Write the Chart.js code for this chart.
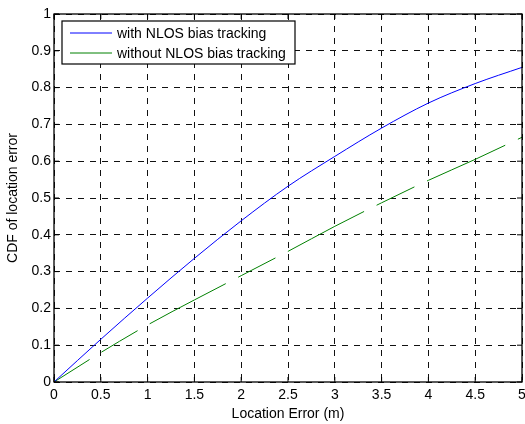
<!DOCTYPE html>
<html>
<head>
<meta charset="utf-8">
<script src="https://cdn.jsdelivr.net/npm/chart.js@4.4.1/dist/chart.umd.min.js"></script>
<style>
  html, body { margin: 0; padding: 0; background: #fff; }
  #wrap { width: 525px; height: 424px; }
</style>
</head>
<body>
<div id="wrap"><canvas id="cdf"></canvas></div>
<script>
// values
const locationError = [0, 0.5, 1, 1.5, 2, 2.5, 3, 3.5, 4, 4.5, 5];
const withTracking = [0, 0.116, 0.228, 0.336, 0.438, 0.532, 0.613, 0.69, 0.758, 0.811, 0.855];
const withoutTracking = [0, 0.08, 0.155, 0.223, 0.289, 0.355, 0.423, 0.487, 0.548, 0.605, 0.665];
const seriesLabels = ["with NLOS bias tracking", "without NLOS bias tracking"];
const seriesColors = ["#0000ff", "#008000"];
const xTickLabels = ["0", "0.5", "1", "1.5", "2", "2.5", "3", "3.5", "4", "4.5", "5"];
const yTickLabels = ["0", "0.1", "0.2", "0.3", "0.4", "0.5", "0.6", "0.7", "0.8", "0.9", "1"];

const FONT = '"Liberation Sans", Arial, sans-serif';
Chart.defaults.font.family = FONT;
Chart.defaults.font.size = 14;
Chart.defaults.color = "#000";

function toPoints(ys) {
  return locationError.map((x, i) => ({ x, y: ys[i] }));
}

// matlab style inner ticks + box round the axes
const axesBox = {
  id: "axesBox",
  afterDraw(chart) {
    const { ctx, chartArea: a, scales } = chart;
    const len = 5;
    ctx.save();
    ctx.strokeStyle = "#000";
    ctx.lineWidth = 1;
    ctx.setLineDash([]);
    ctx.beginPath();
    scales.x.ticks.forEach((t) => {
      const px = scales.x.getPixelForValue(t.value);
      ctx.moveTo(px, a.bottom);
      ctx.lineTo(px, a.bottom - len);
      ctx.moveTo(px, a.top);
      ctx.lineTo(px, a.top + len);
    });
    scales.y.ticks.forEach((t) => {
      const py = scales.y.getPixelForValue(t.value);
      ctx.moveTo(a.left, py);
      ctx.lineTo(a.left + len, py);
      ctx.moveTo(a.right, py);
      ctx.lineTo(a.right - len, py);
    });
    ctx.stroke();
    ctx.lineWidth = 1.3;
    ctx.strokeRect(a.left, a.top, a.right - a.left, a.bottom - a.top);
    ctx.restore();
  },
};

// legend drawn inside the axes, top left, with a frame
const boxedLegend = {
  id: "boxedLegend",
  afterDraw(chart) {
    const { ctx, chartArea: a } = chart;
    const left = a.left + 8;
    const top = a.top + 7;
    const w = 233;
    const h = 43;
    ctx.save();
    ctx.setLineDash([]);
    ctx.fillStyle = "#fff";
    ctx.fillRect(left, top, w, h);
    ctx.strokeStyle = "#000";
    ctx.lineWidth = 1.2;
    ctx.strokeRect(left, top, w, h);
    ctx.font = "14px " + FONT;
    ctx.textBaseline = "middle";
    seriesLabels.forEach((label, i) => {
      const y = top + 12 + i * 20;
      ctx.beginPath();
      ctx.strokeStyle = seriesColors[i];
      ctx.lineWidth = 1;
      ctx.moveTo(left + 8, y);
      ctx.lineTo(left + 50, y);
      ctx.stroke();
      ctx.fillStyle = "#000";
      ctx.fillText(label, left + 55, y + 1);
    });
    ctx.restore();
  },
};

new Chart(document.getElementById("cdf"), {
  type: "line",
  data: {
    datasets: [
      {
        label: seriesLabels[0],
        data: toPoints(withTracking),
        borderColor: seriesColors[0],
        borderWidth: 1,
        pointRadius: 0,
        cubicInterpolationMode: "monotone",
      },
      {
        label: seriesLabels[1],
        data: toPoints(withoutTracking),
        borderColor: seriesColors[1],
        borderWidth: 1,
        pointRadius: 0,
        cubicInterpolationMode: "monotone",
        borderDash: [42, 14, 42, 14, 86, 14, 42, 14, 86, 14, 42, 14, 86, 14, 42, 14, 86, 14, 42, 14],
      },
    ],
  },
  options: {
    responsive: true,
    maintainAspectRatio: false,
    animation: false,
    layout: { padding: { top: 14, right: 3, left: 0, bottom: 0 } },
    plugins: {
      legend: { display: false },
      tooltip: { enabled: false },
    },
    scales: {
      x: {
        type: "linear",
        min: 0,
        max: 5,
        ticks: {
          stepSize: 0.5,
          padding: 5,
          maxRotation: 0,
          autoSkip: false,
          callback: (v, i) => xTickLabels[i],
        },
        grid: { color: "#111", drawTicks: false, lineWidth: 1 },
        border: { display: false, dash: [6, 6] },
        title: { display: true, text: "Location Error (m)", padding: { top: 2, bottom: 1 } },
        afterFit(scale) {
          scale.height = 42;
          scale.paddingLeft = 0;
          scale.paddingRight = 0;
        },
      },
      y: {
        min: 0,
        max: 1,
        ticks: {
          stepSize: 0.1,
          padding: 3,
          autoSkip: false,
          callback: (v, i) => yTickLabels[i],
        },
        grid: { color: "#111", drawTicks: false, lineWidth: 1 },
        border: { display: false, dash: [6, 6] },
        title: { display: true, text: "CDF of location error", padding: { top: 5, bottom: 2 } },
        afterFit(scale) {
          scale.width = 54;
        },
      },
    },
  },
  plugins: [axesBox, boxedLegend],
});
</script>
</body>
</html>
